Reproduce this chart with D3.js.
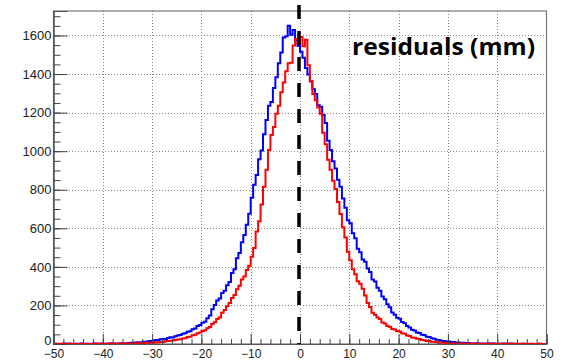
<!DOCTYPE html>
<html>
<head>
<meta charset="utf-8">
<script src="https://cdn.jsdelivr.net/npm/d3@7"></script>
<style>
  html, body { margin: 0; padding: 0; background: #fff; }
  svg { display: block; }
</style>
</head>
<body>
<svg id="chart" width="565" height="361"></svg>
<script>
// Histogram range and binning (0.5 mm bins from -50 to 50 mm)
const xRange = [-50, 50];
const yMax = 1727;

// Residual counts per bin, blue series
const blueCounts = [
  0,1,0,0,2,0,1,0,0,1,
  0,2,0,1,0,0,3,1,0,2,
  1,0,2,3,1,2,0,4,2,3,
  5,6,4,8,9,7,12,11,14,16,
  17,21,19,24,26,25,31,35,34,40,
  44,47,53,56,63,66,76,80,93,99,
  110,116,133,148,180,202,226,236,265,276,
  305,322,368,388,445,472,528,565,618,676,
  758,826,876,958,1004,1088,1162,1236,1255,1328,
  1384,1456,1512,1590,1596,1650,1604,1628,1574,1546,
  1516,1484,1432,1398,1362,1322,1296,1238,1230,1188,
  1146,1054,1006,948,910,852,816,754,706,642,
  626,574,548,494,476,438,426,392,374,334,
  324,292,276,246,232,206,190,164,152,136,
  131,114,108,93,86,74,70,60,57,48,
  47,38,36,30,27,22,21,17,16,12,
  13,9,10,7,8,5,6,4,5,3,
  3,4,2,3,1,2,2,1,2,0,
  1,0,2,1,0,3,0,1,0,0,
  1,0,0,1,0,0,0,1,0,0
];

// Residual counts per bin, red series
const redCounts = [
  1,0,0,1,0,0,2,0,1,0,
  0,1,0,0,1,0,0,2,0,1,
  1,0,1,2,0,1,2,1,3,2,
  2,3,2,4,3,5,4,6,5,7,
  7,9,8,11,10,14,15,17,18,21,
  23,24,28,30,36,38,46,48,56,59,
  67,71,82,88,104,113,130,138,162,176,
  196,212,238,254,284,302,334,350,384,406,
  452,498,584,636,724,816,904,1006,1084,1126,
  1194,1236,1306,1356,1414,1456,1458,1548,1582,1556,
  1592,1544,1578,1446,1364,1296,1264,1226,1194,1096,
  1036,956,904,846,804,736,674,606,552,478,
  434,388,362,326,312,286,252,212,192,162,
  152,138,130,112,106,94,90,78,75,68,
  65,56,53,44,41,34,33,27,26,21,
  20,16,15,12,12,9,8,6,6,4,
  4,3,3,2,2,3,1,1,2,1,
  1,2,1,0,1,1,0,2,1,0,
  1,0,1,0,2,0,1,0,0,1,
  0,1,0,0,1,0,0,1,0,0
];

// Axis tick values
const xMajorTicks = [-50, -40, -30, -20, -10, 0, 10, 20, 30, 40, 50];
const xMinorStep = 2;
const yMajorTicks = [0, 200, 400, 600, 800, 1000, 1200, 1400, 1600];
const yMinorStep = 50;
const titleText = "residuals (mm)";
const markerX = 0;

const svg = d3.select("#chart");
const frame = { left: 53.5, right: 546.5, top: 11, bottom: 344 };

const x = d3.scaleLinear().domain(xRange).range([frame.left, frame.right]);
const y = d3.scaleLinear().domain([0, yMax]).range([frame.bottom, frame.top]);

const xMinorTicks = d3.range(xRange[0], xRange[1] + 0.001, xMinorStep);
const yMinorTicks = d3.range(0, yMax, yMinorStep);

// Dotted grid at major ticks
const grid = svg.append("g").attr("stroke", "#8a8a8a").attr("stroke-width", 1)
  .attr("stroke-dasharray", "1,2").attr("shape-rendering", "crispEdges");
grid.selectAll("line.v").data(xMajorTicks.filter(v => v > xRange[0] && v < xRange[1]))
  .join("line").attr("class", "v")
  .attr("x1", d => Math.round(x(d)) + 0.5).attr("x2", d => Math.round(x(d)) + 0.5)
  .attr("y1", frame.top).attr("y2", frame.bottom);
grid.selectAll("line.h").data(yMajorTicks.filter(v => v > 0))
  .join("line").attr("class", "h")
  .attr("y1", d => Math.round(y(d)) + 0.5).attr("y2", d => Math.round(y(d)) + 0.5)
  .attr("x1", frame.left).attr("x2", frame.right);

// Frame
svg.append("rect")
  .attr("x", frame.left).attr("y", frame.top)
  .attr("width", frame.right - frame.left).attr("height", frame.bottom - frame.top)
  .attr("fill", "none").attr("stroke", "#777").attr("stroke-width", 1.2);

// Step outline of a histogram
const nBins = blueCounts.length;
const binWidth = (xRange[1] - xRange[0]) / nBins;
function stepPoints(counts) {
  const pts = [[xRange[0], 0]];
  counts.forEach((c, i) => {
    const lo = xRange[0] + i * binWidth;
    pts.push([lo, c], [lo + binWidth, c]);
  });
  pts.push([xRange[1], 0]);
  return pts;
}
const line = d3.line().x(d => x(d[0])).y(d => y(d[1]));

svg.append("clipPath").attr("id", "plotClip").append("rect")
  .attr("x", frame.left).attr("y", frame.top)
  .attr("width", frame.right - frame.left).attr("height", frame.bottom - frame.top + 1);

const hists = svg.append("g").attr("clip-path", "url(#plotClip)");
hists.append("path").datum(stepPoints(blueCounts))
  .attr("d", line).attr("fill", "none").attr("stroke", "#0000ff").attr("stroke-width", 2);
hists.append("path").datum(stepPoints(redCounts))
  .attr("d", line).attr("fill", "none").attr("stroke", "#ff0000").attr("stroke-width", 2);

// Axes with inward ticks
const axisStyle = g => {
  g.select(".domain").attr("stroke", "#555");
  g.selectAll(".tick line").attr("stroke", "#444");
  g.selectAll("text").attr("fill", "#222")
    .attr("font-family", "'Liberation Sans', Arial, sans-serif");
};

svg.append("g").attr("transform", `translate(0,${frame.bottom})`)
  .call(d3.axisBottom(x).tickValues(xMinorTicks).tickSize(-5).tickFormat(""))
  .call(axisStyle);
svg.append("g").attr("transform", `translate(0,${frame.bottom})`)
  .call(d3.axisBottom(x).tickValues(xMajorTicks).tickSize(-10).tickPadding(5.5)
    .tickFormat(d3.format("d")))
  .call(axisStyle)
  .call(g => g.selectAll("text").attr("font-size", 12));

svg.append("g").attr("transform", `translate(${frame.left},0)`)
  .call(d3.axisLeft(y).tickValues(yMinorTicks).tickSize(-7).tickFormat(""))
  .call(axisStyle);
svg.append("g").attr("transform", `translate(${frame.left},0)`)
  .call(d3.axisLeft(y).tickValues(yMajorTicks).tickSize(-14).tickPadding(2)
    .tickFormat(d3.format("d")))
  .call(axisStyle)
  .call(g => g.selectAll("text").attr("font-size", 13))
  // lift the zero label a little so it clears the x-axis labels
  .call(g => g.selectAll(".tick").filter(d => d === 0).select("text").attr("dy", "0.05em"));

// Dashed marker at zero residual
svg.append("line")
  .attr("x1", x(markerX) - 1).attr("x2", x(markerX) - 1)
  .attr("y1", 5).attr("y2", frame.bottom)
  .attr("stroke", "#000").attr("stroke-width", 3.5)
  .attr("stroke-dasharray", "14,12");

// Title label
svg.append("text")
  .attr("x", 352).attr("y", 55)
  .attr("font-family", "'Open Sans', Lato, sans-serif")
  .attr("font-weight", "bold").attr("font-size", 23)
  .attr("textLength", 183).attr("lengthAdjust", "spacingAndGlyphs")
  .attr("fill", "#000")
  .text(titleText);
</script>
</body>
</html>
